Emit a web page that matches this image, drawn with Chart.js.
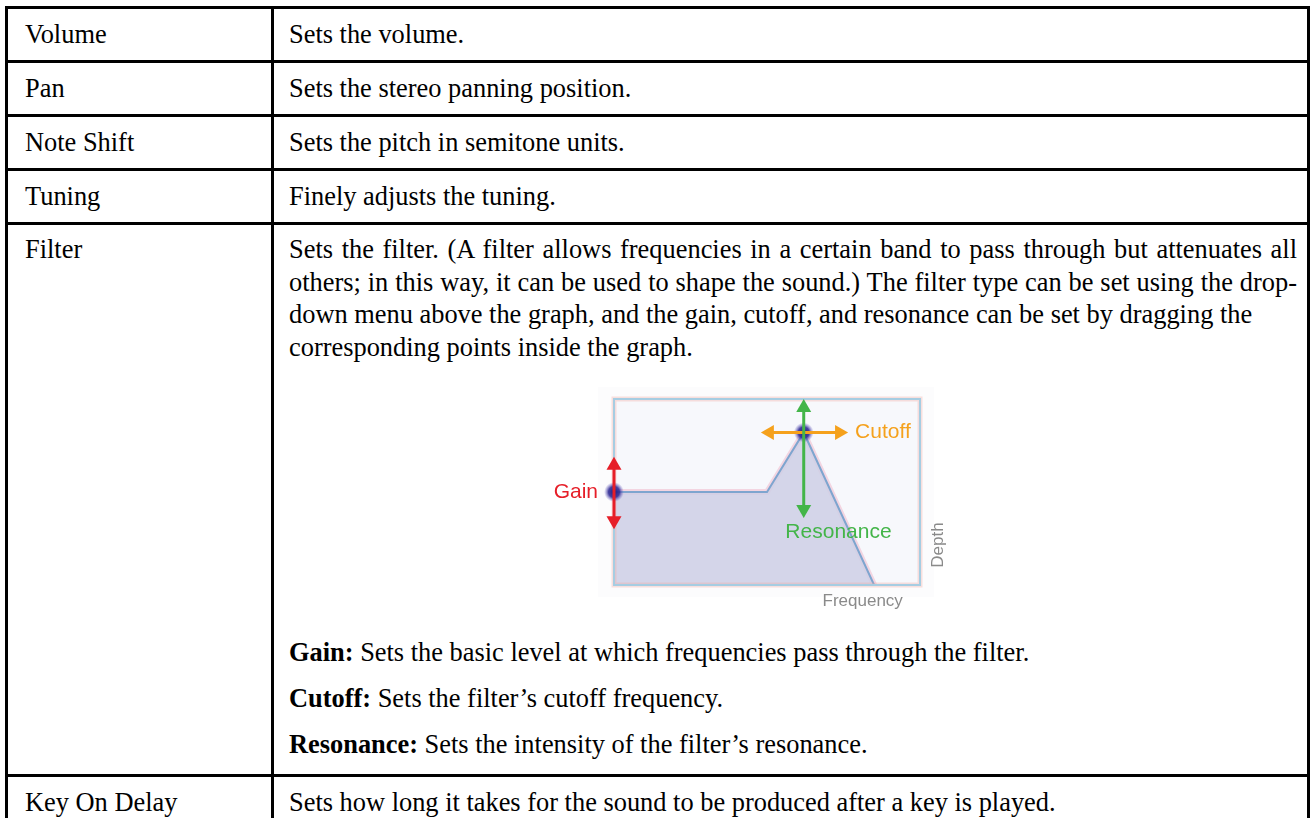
<!DOCTYPE html>
<html>
<head>
<meta charset="utf-8">
<script src="https://cdn.jsdelivr.net/npm/chart.js@4.4.1/dist/chart.umd.min.js"></script>
<style>
  html, body { margin:0; padding:0; background:#fff; width:1314px; height:818px; overflow:hidden; }
  table { position:absolute; left:5px; top:6px; width:1305px; border-collapse:collapse; table-layout:fixed;
          font-family:"Liberation Serif","Times New Roman",serif; font-size:26.4px; line-height:32.5px; color:#000; }
  td { border:3px solid #000; padding:0 8px 0 15px; vertical-align:middle; white-space:nowrap; overflow:visible; }
  td.k { padding-left:17px; }
  tr.s { height:54px; }
  td.top { vertical-align:top; }
  .para { padding-top:8px; }
  .j { width:1008px; white-space:normal; text-align:justify; text-align-last:justify; }
  .spacer { height:273px; }
  .def { margin:0; }
  .def + .def { margin-top:13.5px; }
  .lastpad { height:13px; }
  #chartBox { position:absolute; left:530px; top:385px; width:440px; height:235px; }
</style>
</head>
<body>
<table>
  <colgroup><col style="width:266px"><col></colgroup>
  <tr class="s"><td class="k">Volume</td><td>Sets the volume.</td></tr>
  <tr class="s"><td class="k">Pan</td><td>Sets the stereo panning position.</td></tr>
  <tr class="s"><td class="k">Note Shift</td><td>Sets the pitch in semitone units.</td></tr>
  <tr class="s"><td class="k">Tuning</td><td>Finely adjusts the tuning.</td></tr>
  <tr>
    <td class="k top"><div class="para">Filter</div></td>
    <td class="top">
      <div class="para">
        <div class="j">Sets the filter. (A filter allows frequencies in a certain band to pass through but attenuates all</div>
        <div class="j">others; in this way, it can be used to shape the sound.) The filter type can be set using the drop-</div>
        <div>down menu above the graph, and the gain, cutoff, and resonance can be set by dragging the</div>
        <div>corresponding points inside the graph.</div>
      </div>
      <div class="spacer"></div>
      <p class="def"><b>Gain:</b> Sets the basic level at which frequencies pass through the filter.</p>
      <p class="def"><b>Cutoff:</b> Sets the filter’s cutoff frequency.</p>
      <p class="def"><b>Resonance:</b> Sets the intensity of the filter’s resonance.</p>
      <div class="lastpad"></div>
    </td>
  </tr>
  <tr class="s"><td class="k">Key On Delay</td><td>Sets how long it takes for the sound to be produced after a key is played.</td></tr>
</table>
<div id="chartBox"><canvas id="filterChart" width="440" height="235"></canvas></div>
<script>
// Filter response curve (frequency 0-100, depth 0-100)
const frequency = [0, 50, 62, 85];
const depth = [50, 50, 82, 0];
// handles drawn as dots: gain point and cutoff point
const handleIndex = [0, 2];
// arrow extents in data units
const gainRange = [30, 69];        // depth range at frequency 0
const cutoffRange = [48, 76.5];    // frequency range at cutoff depth
const resonanceRange = [36, 100];  // depth range at cutoff frequency
const labelGain = 'Gain';
const labelCutoff = 'Cutoff';
const labelResonance = 'Resonance';
const labelFreq = 'Frequency';
const labelDepth = 'Depth';
const resonanceLabelPos = [56, 28.5];
const freqLabelX = 94.4;
const depthLabelY = 21.5;

const points = frequency.map((f, i) => ({ x: f, y: depth[i] }));

function head(ctx, x, y, a, L, W) {
  ctx.beginPath();
  ctx.moveTo(x, y);
  ctx.lineTo(x - L * Math.cos(a) + W * Math.sin(a), y - L * Math.sin(a) - W * Math.cos(a));
  ctx.lineTo(x - L * Math.cos(a) - W * Math.sin(a), y - L * Math.sin(a) + W * Math.cos(a));
  ctx.closePath();
  ctx.fill();
}
function arrow(ctx, x1, y1, x2, y2, color) {
  const a = Math.atan2(y2 - y1, x2 - x1), L = 13, W = 7.5;
  ctx.save();
  ctx.strokeStyle = color; ctx.fillStyle = color; ctx.lineWidth = 3;
  ctx.beginPath();
  ctx.moveTo(x1 + Math.cos(a) * L * 0.7, y1 + Math.sin(a) * L * 0.7);
  ctx.lineTo(x2 - Math.cos(a) * L * 0.7, y2 - Math.sin(a) * L * 0.7);
  ctx.stroke();
  head(ctx, x2, y2, a, L, W);
  head(ctx, x1, y1, a + Math.PI, L, W);
  ctx.restore();
}

const diagram = {
  id: 'diagram',
  beforeDatasetsDraw(chart) {
    const { ctx, chartArea: a } = chart;
    ctx.save();
    ctx.fillStyle = '#fcfcfd';
    ctx.fillRect(a.left - 16, a.top - 12, a.width + 30, a.height + 24);
    ctx.fillStyle = '#f7f8fc';
    ctx.fillRect(a.left, a.top, a.width, a.height);
    ctx.restore();
  },
  afterDatasetsDraw(chart) {
    const { ctx, chartArea: a } = chart;
    const xs = chart.scales.x, ys = chart.scales.y;
    ctx.save();
    // frame
    ctx.strokeStyle = 'rgba(240,170,160,0.35)'; ctx.lineWidth = 5;
    ctx.strokeRect(a.left, a.top, a.width, a.height);
    ctx.strokeStyle = '#a6cde2'; ctx.lineWidth = 2;
    ctx.strokeRect(a.left, a.top, a.width, a.height);
    // handles
    const meta = chart.getDatasetMeta(0);
    handleIndex.forEach(i => {
      const p = meta.data[i];
      const g = ctx.createRadialGradient(p.x, p.y, 0, p.x, p.y, 10);
      g.addColorStop(0, 'rgba(35,30,130,1)');
      g.addColorStop(0.55, 'rgba(50,45,150,0.9)');
      g.addColorStop(1, 'rgba(120,110,200,0)');
      ctx.fillStyle = g;
      ctx.beginPath(); ctx.arc(p.x, p.y, 10, 0, Math.PI * 2); ctx.fill();
    });
    // arrows
    const gx = xs.getPixelForValue(frequency[handleIndex[0]]);
    arrow(ctx, gx, ys.getPixelForValue(gainRange[1]), gx, ys.getPixelForValue(gainRange[0]), '#e61e28');
    const cy = ys.getPixelForValue(depth[handleIndex[1]]);
    arrow(ctx, xs.getPixelForValue(cutoffRange[0]), cy, xs.getPixelForValue(cutoffRange[1]), cy, '#f5a11c');
    const rx = xs.getPixelForValue(frequency[handleIndex[1]]);
    arrow(ctx, rx, ys.getPixelForValue(resonanceRange[1]), rx, ys.getPixelForValue(resonanceRange[0]), '#43b549');
    // labels
    ctx.font = '21px "Liberation Sans", Arial, sans-serif';
    ctx.textBaseline = 'middle';
    ctx.fillStyle = '#e61e28'; ctx.textAlign = 'right';
    ctx.fillText(labelGain, gx - 16, ys.getPixelForValue(depth[handleIndex[0]]));
    ctx.fillStyle = '#f5a11c'; ctx.textAlign = 'left';
    ctx.fillText(labelCutoff, xs.getPixelForValue(cutoffRange[1]) + 7, cy);
    ctx.fillStyle = '#43b549';
    ctx.fillText(labelResonance, xs.getPixelForValue(resonanceLabelPos[0]), ys.getPixelForValue(resonanceLabelPos[1]));
    ctx.font = '17px "Liberation Sans", Arial, sans-serif';
    ctx.fillStyle = '#8a8a8a'; ctx.textAlign = 'right';
    ctx.fillText(labelFreq, xs.getPixelForValue(freqLabelX), a.bottom + 16);
    ctx.translate(a.right + 18, ys.getPixelForValue(depthLabelY));
    ctx.rotate(-Math.PI / 2);
    ctx.textAlign = 'center';
    ctx.fillText(labelDepth, 0, 0);
    ctx.restore();
  }
};

new Chart(document.getElementById('filterChart'), {
  type: 'line',
  data: {
    datasets: [
      { data: points, borderColor: '#7ea5cf', borderWidth: 2, backgroundColor: 'rgba(206,207,229,0.85)',
        fill: 'origin', pointRadius: 0, tension: 0 },
      { data: points, borderColor: 'rgba(235,150,175,0.35)', borderWidth: 6, fill: false, pointRadius: 0, tension: 0 }
    ]
  },
  options: {
    responsive: false,
    animation: false,
    layout: { padding: { left: 84, top: 14, right: 50, bottom: 35 } },
    scales: {
      x: { type: 'linear', min: 0, max: 100, display: false },
      y: { type: 'linear', min: 0, max: 100, display: false }
    },
    plugins: { legend: { display: false }, tooltip: { enabled: false } }
  },
  plugins: [diagram]
});
</script>
</body>
</html>
